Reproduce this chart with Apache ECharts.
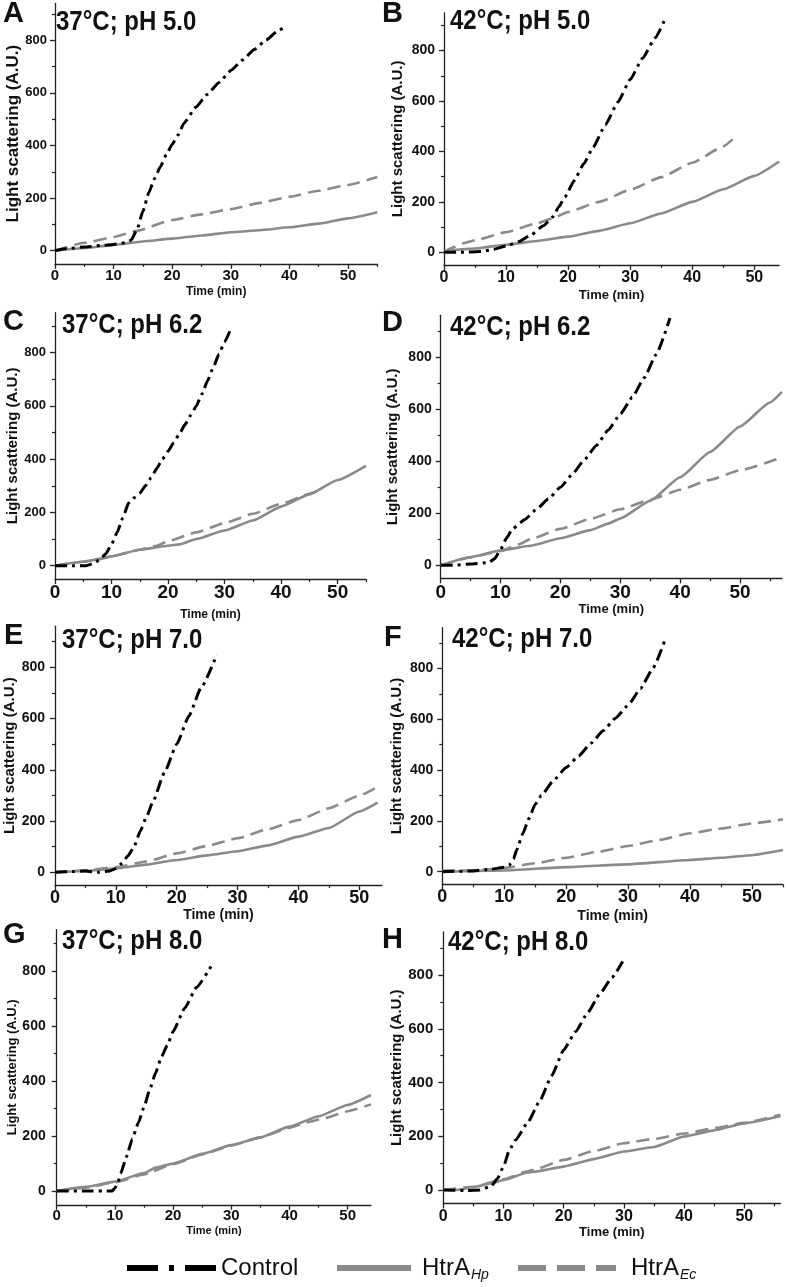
<!DOCTYPE html>
<html><head><meta charset="utf-8">
<script src="https://cdn.jsdelivr.net/npm/echarts@6/dist/echarts.min.js"></script>
<style>html,body{margin:0;padding:0;background:#fff}#c{width:787px;height:1287px}</style>
</head><body><div id="c"></div>
<script>
// ---------------- data ----------------
const panelLetters = ['A','B','C','D','E','F','G','H'];
const panelTitles = ['37°C; pH 5.0','42°C; pH 5.0','37°C; pH 6.2','42°C; pH 6.2','37°C; pH 7.0','42°C; pH 7.0','37°C; pH 8.0','42°C; pH 8.0'];
const seriesNames = ['Control','HtrA_Hp','HtrA_Ec'];
const yTickLabels = [0,200,400,600,800];
const yMinorTicks = [100,300,500,700,900];
const xTickLabels = [0,10,20,30,40,50];
const xMinorTicks = [5,15,25,35,45,55];
const xAxisMax = [55,54,55,57,53.7,55,54,56];
const yAxisMin = -50;
const yAxisMax = [940,950,950,960,960,960,950,960];
const xAxisName = 'Time (min)';
const yAxisName = 'Light scattering (A.U.)';

// [time (min), light scattering (A.U.)]
const A_control = [[0,0],[2,8],[5,14],[8,20],[10,24],[12,30],[13,40],[14,80],[15,150],[16,220],[17,275],[18,320],[19,365],[20,405],[21,440],[22,485],[24,545],[26,595],[28,640],[30,685],[32,725],[34,765],[36,800],[38,835],[39.2,852]];
const A_hp = [[0,0],[5,10],[10,22],[15,35],[20,46],[25,58],[30,70],[35,78],[40,89],[45,103],[50,123],[55,146]];
const A_ec = [[0,0],[5,30],[10,52],[14,76],[20,117],[25,138],[30,158],[35,182],[40,205],[45,228],[50,250],[55,280]];

const B_control = [[0,0],[3,0],[6,3],[8,12],[10,25],[12,42],[14,68],[16,105],[17.5,140],[18.5,180],[19.5,220],[21,285],[22.5,350],[24,415],[26,505],[28,595],[30,685],[32,770],[34,850],[35.8,935]];
const B_hp = [[0,0],[2,10],[5,15],[10,30],[15,45],[20,62],[25,85],[30,115],[35,154],[40,200],[45,250],[50,303],[54,360]];
const B_ec = [[0,0],[1,15],[3,35],[5,48],[10,80],[15,115],[17.5,135],[20,160],[25,200],[30,248],[35,298],[40,355],[45,420],[46.5,448]];

const C_control = [[0,0],[3.5,0],[5.5,0],[7,10],[8,25],[9,45],[10,80],[11,125],[12,180],[13,235],[14,255],[15,272],[16,300],[17,330],[18,365],[19,400],[20,430],[21,462],[22,495],[23,530],[24,565],[25,600],[26,645],[27,695],[28,745],[29,795],[30,840],[31.2,895]];
const C_hp = [[0,0],[5,15],[8,25],[10,35],[15,60],[20,75],[22,80],[25,100],[30,132],[35,170],[40,222],[45,268],[50,322],[55,375]];
const C_ec = [[0,0],[5,15],[10,35],[15,60],[18,75],[20,92],[25,125],[30,160],[35,195],[40,232],[45,270],[46.5,280]];

const D_control = [[0,0],[2,0],[5,5],[8,10],[9,25],[10,60],[11,105],[12,140],[14,175],[16,215],[18,255],[20,300],[22,350],[24,405],[26,460],[28,520],[30,580],[32,645],[34,720],[36,810],[38.3,950]];
const D_hp = [[0,0],[5,32],[10,57],[15,75],[20,104],[25,135],[28,160],[30,180],[35,248],[40,338],[45,435],[50,533],[55,625],[57,666]];
const D_ec = [[0,0],[5,30],[10,55],[13,80],[15,100],[20,140],[25,178],[30,215],[35,252],[40,290],[45,328],[50,365],[57,415]];

const E_control = [[0,0],[3,3],[5,5],[7,0],[9,5],[10,15],[11,35],[12,65],[13,100],[14,160],[15,215],[16,270],[18,390],[20,500],[22,610],[24,720],[26.6,850]];
const E_hp = [[0,0],[5,5],[10,15],[15,30],[20,48],[25,66],[30,82],[35,105],[40,139],[45,173],[50,237],[53,272]];
const E_ec = [[0,0],[5,8],[10,20],[15,42],[20,74],[25,103],[30,133],[35,168],[40,204],[45,250],[50,299],[53,334]];

const F_control = [[0,0],[5,3],[7,8],[8,10],[10,18],[10.8,25],[11.5,50],[12,85],[13,150],[14,210],[15,265],[16,300],[18,360],[20,410],[22,455],[24,505],[26,555],[28,605],[30,655],[32,720],[34,800],[36,915]];
const F_hp = [[0,0],[10,5],[20,18],[30,29],[40,46],[45,55],[50,65],[55,85]];
const F_ec = [[0,5],[5,5],[8,10],[10,15],[15,33],[20,55],[25,78],[30,101],[35,125],[40,151],[45,170],[50,190],[55,206]];

const G_control = [[0,0],[5,0],[9.5,0],[10,10],[10.5,30],[11,64],[12,125],[13,190],[14,246],[15,305],[16,370],[17,430],[18,488],[19,530],[20,580],[22,665],[24,740],[26.5,816]];
const G_hp = [[0,0],[5,15],[10,34],[15,65],[17,85],[20,100],[25,135],[30,167],[35,195],[40,234],[45,272],[50,313],[54,349]];
const G_ec = [[0,0],[5,12],[10,32],[15,60],[20,98],[25,133],[30,165],[35,195],[40,230],[43,250],[46,265],[50,290],[54,315]];

const H_control = [[0,0],[4,-2],[6,0],[8,15],[9,43],[10,87],[11,150],[12,186],[14,250],[16,330],[18,425],[20,521],[22,590],[24,660],[26,730],[28,790],[29.8,850]];
const H_hp = [[0,0],[2,0],[5,10],[8,25],[10,37],[14,65],[15,68],[20,87],[25,115],[30,143],[35,160],[40,199],[45,222],[50,248],[56,275]];
const H_ec = [[0,0],[5,12],[10,40],[14,70],[15,75],[20,112],[25,145],[30,174],[35,190],[40,210],[45,230],[50,250],[56,280]];

const panelData = [
  [A_control, A_hp, A_ec], [B_control, B_hp, B_ec],
  [C_control, C_hp, C_ec], [D_control, D_hp, D_ec],
  [E_control, E_hp, E_ec], [F_control, F_hp, F_ec],
  [G_control, G_hp, G_ec], [H_control, H_hp, H_ec]
];

// ---------------- layout / style ----------------
const FONT = '"Liberation Sans", Arial, sans-serif';
const AX = '#222';
const GRAY = '#8a8a8a';
// x0: y-axis x position, ppm: px per minute, y0: pixel of value 0, k: px per unit
const layout = [
  {x0:55,   ppm:5.86,  y0:250.7, k:0.263,   yl:13, ylm:8,  xl:15, xlm:5, tn:12, tg:22, yn:17, yg:32, tx:56,  ty:22,   lx:3,   ly:14},
  {x0:444,  ppm:6.206, y0:252.3, k:0.2521,  yl:14, ylm:9,  xl:16, xlm:5, tn:13, tg:24, yn:15, yg:39, tx:450, ty:21.5, lx:382, ly:14},
  {x0:55,   ppm:5.653, y0:565.7, k:0.2663,  yl:13, ylm:9,  xl:19, xlm:4, tn:12, tg:30, yn:15, yg:31, tx:62,  ty:325,  lx:3,   ly:322},
  {x0:440.7,ppm:5.986, y0:565.3, k:0.2604,  yl:14, ylm:9,  xl:19, xlm:5, tn:13, tg:21, yn:15, yg:40, tx:450, ty:327.5,lx:382, ly:323},
  {x0:55,   ppm:6.087, y0:872.3, k:0.2563,  yl:14, ylm:10, xl:18, xlm:4, tn:14, tg:22, yn:15, yg:34, tx:62,  ty:640,  lx:4,   ly:636},
  {x0:442.3,ppm:6.193, y0:871.7, k:0.2542,  yl:14, ylm:9,  xl:18, xlm:4, tn:14, tg:25, yn:15, yg:38, tx:452, ty:639,  lx:384, ly:638},
  {x0:56.7, ppm:5.82,  y0:1191,  k:0.275,   yl:14, ylm:11, xl:15, xlm:4, tn:11, tg:21, yn:13, yg:37, tx:62,  ty:941,  lx:3,   ly:935},
  {x0:443.3,ppm:6.02,  y0:1190,  k:0.26875, yl:15, ylm:10, xl:16, xlm:5, tn:13, tg:22, yn:15, yg:39, tx:448, ty:942,  lx:382, ly:940}
];

const grid = [], xAxis = [], yAxis = [], series = [], graphic = [];
layout.forEach((L, i) => {
  const xmax = xAxisMax[i], ymax = yAxisMax[i];
  grid.push({left: L.x0, top: L.y0 - ymax * L.k, width: xmax * L.ppm, height: (ymax - yAxisMin) * L.k, containLabel: false});
  const lbl = {fontFamily: FONT, fontWeight: 'bold', color: '#111'};
  xAxis.push({
    type: 'value', gridIndex: i, min: 0, max: xmax, position: 'bottom',
    axisLine: {onZero: false, lineStyle: {color: AX, width: 1.3}},
    axisTick: {customValues: xTickLabels, length: 5, lineStyle: {color: AX, width: 1.3}},
    axisLabel: Object.assign({customValues: xTickLabels, fontSize: L.xl, margin: L.xlm}, lbl),
    splitLine: {show: false},
    name: xAxisName, nameLocation: 'middle', nameGap: L.tg,
    nameTextStyle: Object.assign({fontSize: L.tn}, lbl)
  });
  xAxis.push({
    type: 'value', gridIndex: i, min: 0, max: xmax, position: 'bottom',
    axisLine: {show: false, onZero: false},
    axisTick: {customValues: xMinorTicks.filter(v => v <= xmax), length: 3, lineStyle: {color: AX, width: 1.2}},
    axisLabel: {show: false}, splitLine: {show: false}
  });
  yAxis.push({
    type: 'value', gridIndex: i, min: yAxisMin, max: ymax, position: 'left',
    axisLine: {show: true, onZero: false, lineStyle: {color: AX, width: 1.3}},
    axisTick: {show: true, customValues: yTickLabels, length: 5, lineStyle: {color: AX, width: 1.3}},
    axisLabel: Object.assign({customValues: yTickLabels, fontSize: L.yl, margin: L.ylm}, lbl),
    splitLine: {show: false},
    name: yAxisName, nameLocation: 'middle', nameGap: L.yg, nameRotate: 90,
    nameTextStyle: Object.assign({fontSize: L.yn}, lbl)
  });
  yAxis.push({
    type: 'value', gridIndex: i, min: yAxisMin, max: ymax, position: 'left',
    axisLine: {show: false, onZero: false},
    axisTick: {show: true, customValues: yMinorTicks.filter(v => v <= ymax), length: 3, lineStyle: {color: AX, width: 1.2}},
    axisLabel: {show: false}, splitLine: {show: false}
  });
  const [ctrl, hp, ec] = panelData[i];
  const common = {type: 'line', xAxisIndex: 2*i, yAxisIndex: 2*i, symbol: 'none', showSymbol: false, smooth: 0.15, smoothMonotone: 'x'};
  series.push(Object.assign({name: seriesNames[1], data: hp, lineStyle: {color: GRAY, width: 2.6}, itemStyle: {color: GRAY}, z: 2}, common));
  series.push(Object.assign({name: seriesNames[2], data: ec, lineStyle: {color: GRAY, width: 2.6, type: [13, 7]}, itemStyle: {color: GRAY}, z: 3}, common));
  series.push(Object.assign({name: seriesNames[0], data: ctrl, lineStyle: {color: '#000', width: 3, type: [12, 5, 3, 5]}, itemStyle: {color: '#000'}, z: 4}, common));
  graphic.push({type: 'text', x: L.tx, y: L.ty, scaleY: 1.18, silent: true,
    style: {text: panelTitles[i], x: 0, y: 0, font: 'bold 24px ' + FONT, fill: '#111', align: 'left', verticalAlign: 'middle'}});
  graphic.push({type: 'text', x: L.lx, y: L.ly, silent: true,
    style: {text: panelLetters[i], x: 0, y: 0, font: 'bold 29px ' + FONT, fill: '#111', align: 'left', verticalAlign: 'middle'}});
});

const legendRich = {
  a: {fontSize: 24, fontFamily: FONT, color: '#111'},
  s: {fontSize: 14, fontFamily: FONT, fontStyle: 'italic', color: '#111', padding: [14, 0, 0, 1]}
};
function legendFmt(n) {
  if (n === 'HtrA_Hp') return '{a|HtrA}{s|Hp}';
  if (n === 'HtrA_Ec') return '{a|HtrA}{s|Ec}';
  return '{a|' + n + '}';
}
const legendBase = {top: 1256, itemHeight: 10, padding: 0, selectedMode: false, formatter: legendFmt,
  itemStyle: {opacity: 0, borderWidth: 0}};
const legend = [
  Object.assign({data: [seriesNames[0]], left: 124, itemWidth: 89,
   lineStyle: {width: 6, type: [31, 11, 5, 11]}, textStyle: {rich: legendRich}}, legendBase),
  Object.assign({data: [seriesNames[1]], left: 334, itemWidth: 74,
   lineStyle: {width: 6}, textStyle: {rich: legendRich, padding: [0,0,0,6]}}, legendBase),
  Object.assign({data: [seriesNames[2]], left: 515, itemWidth: 98,
   lineStyle: {width: 6, type: [28, 11]}, textStyle: {rich: legendRich, padding: [0,0,0,10]}}, legendBase)
];

const chart = echarts.init(document.getElementById('c'), null, {renderer: 'canvas'});
chart.setOption({
  animation: false,
  backgroundColor: '#fff',
  textStyle: {fontFamily: FONT},
  grid, xAxis, yAxis, series, legend, graphic
});
</script>
</body></html>
